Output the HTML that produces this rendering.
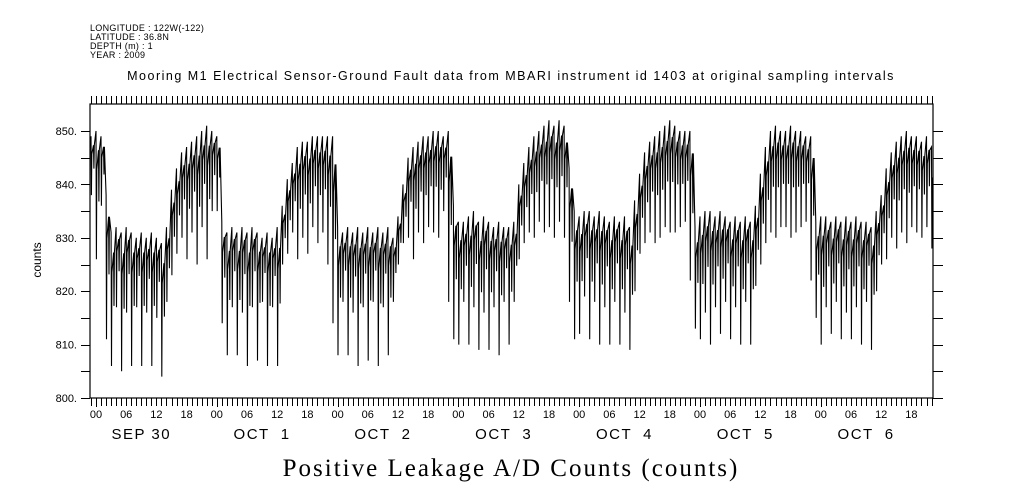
<!DOCTYPE html>
<html><head><meta charset="utf-8">
<style>
html,body{margin:0;padding:0;background:#fff;}
svg{display:block;font-family:"Liberation Sans",sans-serif;}
</style></head>
<body>
<svg id="chart" width="1009" height="504" viewBox="0 0 1009 504" xmlns="http://www.w3.org/2000/svg">
<g font-size="9" fill="#000" letter-spacing="0.3">
<text x="90" y="31">LONGITUDE : 122W(-122)</text>
<text x="90" y="40">LATITUDE : 36.8N</text>
<text x="90" y="49">DEPTH (m) : 1</text>
<text x="90" y="58">YEAR : 2009</text>
</g>
<text x="511" y="80" font-size="12.5" letter-spacing="1.5" text-anchor="middle">Mooring M1 Electrical Sensor-Ground Fault data from MBARI instrument id 1403 at original sampling intervals</text>
<text x="511" y="476" font-size="25" letter-spacing="2" text-anchor="middle" font-family="Liberation Serif,serif">Positive Leakage A/D Counts (counts)</text>
<text transform="translate(41,260) rotate(-90)" font-size="12" text-anchor="middle">counts</text>
<g id="axes"></g>
<g id="series"></g>
</svg>
<script>
// hourly samples starting Sep 30 hour -1 (i.e. Sep 29 23:00)
const dayLabels = ["SEP 30","OCT  1","OCT  2","OCT  3","OCT  4","OCT  5","OCT  6"];
const hourLabels = ["00","06","12","18"];
const yTicks = [800,810,820,830,840,850];
const hiVals = [
849,850,849,838,831,832,831,832,831,830,831,830,831,830,829,832,839,843,846,847,848,849,850,851,
850,849,833,831,832,831,832,831,832,831,830,831,830,832,836,841,844,847,848,848,849,849,849,849,
849,832,831,832,831,832,831,832,831,832,831,832,830,834,840,845,847,848,849,849,850,850,849,850,
836,833,833,834,835,833,834,833,832,833,832,832,833,840,844,847,849,850,851,852,851,852,851,843,
835,834,835,835,834,835,834,833,834,833,834,832,837,842,846,848,849,850,851,852,851,850,850,850,
832,834,835,835,834,835,834,833,834,833,834,833,836,842,847,850,851,850,850,851,850,850,849,849,
833,834,834,833,834,833,834,833,834,833,833,832,835,838,843,846,848,849,850,849,849,848,849,847];
const loVals = [
838,826,836,811,806,817,805,816,806,817,806,816,806,815,804,818,823,827,830,826,831,825,832,826,
835,835,814,808,817,808,816,806,817,807,818,806,817,806,825,827,831,826,830,827,832,829,831,825,
814,808,818,808,816,806,817,807,818,806,817,808,818,825,829,830,826,831,829,832,831,830,835,818,
811,810,818,810,817,809,816,809,817,808,818,810,818,826,829,831,830,833,831,832,830,833,830,818,
811,812,819,811,818,810,817,810,818,810,816,809,820,827,829,831,829,830,832,831,831,832,833,822,
813,811,816,810,817,812,818,811,817,810,818,810,821,825,829,831,830,832,832,830,831,832,833,822,
815,810,817,812,818,811,816,811,817,810,818,809,820,825,826,830,828,831,829,832,831,830,832,828];

const NS = "http://www.w3.org/2000/svg";
const L = 90, R = 933, T = 104, B = 398;
const x0 = 96, pxPerHour = 120.8 / 24;
function xs(hours) { return x0 + hours * pxPerHour; }
function ys(v) { return B - (v - 800) * (B - 131) / 50; }
function mk(tag, attrs, parent) {
  const e = document.createElementNS(NS, tag);
  for (const k in attrs) e.setAttribute(k, attrs[k]);
  parent.appendChild(e);
  return e;
}
const axes = document.getElementById('axes');
const series = document.getElementById('series');

const frame = mk('rect', {x: L, y: T, width: R - L, height: B - T, fill: 'none', stroke: '#000', 'stroke-width': 1.2}, axes);



let d = '';
for (let h = -1; h <= 167; h++) {
  const x = Math.round(xs(h)) + 0.5;
  if (x < L || x > R) continue;
  const major = (h % 24 === 0);
  d += `M${x},${B}V${B + (major ? 9 : 8)}M${x},${T}V${T - 8}`;
}
const xt = mk('path', {d: d, stroke: '#000', 'stroke-width': 1, fill: 'none'}, axes);



for (let day = 0; day < 7; day++) {
  for (let k = 0; k < 4; k++) {
    const h = day * 24 + k * 6;
    const t = mk('text', {x: xs(h), y: 418, 'font-size': 11, 'text-anchor': 'middle'}, axes);
    t.textContent = hourLabels[k];
    
    
  }
  const dl = mk('text', {x: xs(day * 24 + 9), y: 439, 'font-size': 15, 'letter-spacing': 1.5, 'text-anchor': 'middle'}, axes);
  dl.style.whiteSpace = 'pre';
  dl.textContent = dayLabels[day];
  
  
}

let yd = '';
for (let v = 800; v <= 850; v += 5) {
  const y = Math.round(ys(v)) + 0.5;
  yd += `M${L - 9},${y}H${L}M${R},${y}H${R + 10}`;
}
const ytp = mk('path', {d: yd, stroke: '#000', 'stroke-width': 1, fill: 'none'}, axes);


yTicks.forEach(v => {
  const t = mk('text', {x: L - 13, y: ys(v) + 4, 'font-size': 11, 'text-anchor': 'end'}, axes);
  t.textContent = v + '.';
  
  
});

// series: near-vertical spikes hi->lo, then recover into a mid band
let pd = '';
for (let i = 0; i < hiVals.length; i++) {
  const h = i - 1;
  const hi = hiVals[i], lo = loVals[i];
  const mid1 = hi - (hi - lo) * 0.3;
  const mid2 = hi - (hi - lo) * 0.15;
  const pts = [[h, hi], [h + 0.08, lo], [h + 0.16, mid1], [h + 0.5, mid2], [h + 0.58, hi - (hi - lo) * 0.55], [h + 0.66, mid2]];
  pts.forEach(p => {
    const x = xs(p[0]);
    if (x < L || x > R) return;
    pd += (pd === '' ? 'M' : 'L') + x.toFixed(1) + ',' + ys(p[1]).toFixed(1);
  });
}
const line = mk('path', {d: pd, stroke: '#000', 'stroke-width': 1.1, fill: 'none'}, series);


</script>
</body></html>
